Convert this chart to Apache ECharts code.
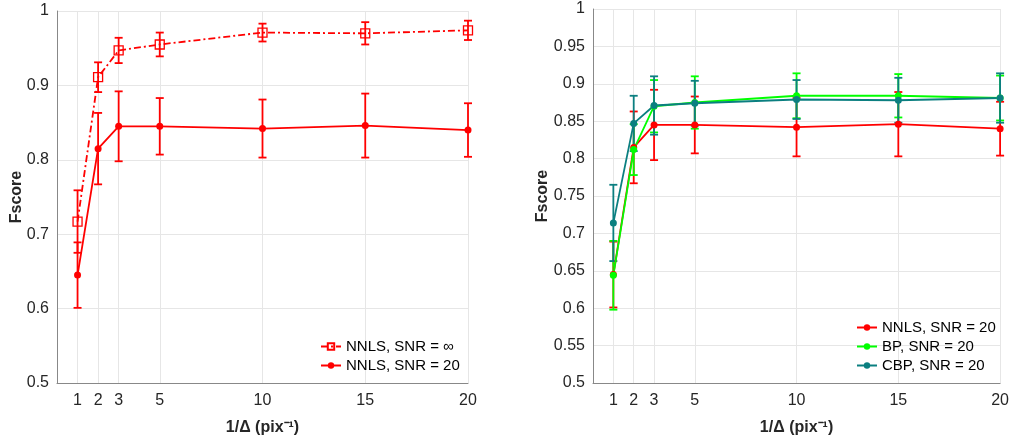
<!DOCTYPE html>
<html>
<head>
<meta charset="utf-8">
<script src="https://cdn.jsdelivr.net/npm/echarts@6/dist/echarts.min.js"></script>
<style>
  html, body { margin: 0; padding: 0; background: #fff; }
  #main { width: 1012px; height: 441px; }
</style>
</head>
<body>
<div id="main"></div>
<script>
// x positions (1/Delta) and tick labels
var xVals = [1, 2, 3, 5, 10, 15, 20];
var xTicks = [1, 2, 3, 5, 10, 15, 20];

// Fscore means and half-widths of the error bars
var nnlsInf = [0.717, 0.911, 0.947, 0.955, 0.971, 0.970, 0.974];
var nnlsInfErr = [0.042, 0.020, 0.017, 0.016, 0.012, 0.015, 0.013];
var nnls20 = [0.645, 0.815, 0.845, 0.845, 0.842, 0.846, 0.840];
var nnls20Err = [0.044, 0.048, 0.047, 0.038, 0.039, 0.043, 0.036];
var bp20 = [0.644, 0.812, 0.870, 0.875, 0.884, 0.884, 0.881];
var bp20Err = [0.046, 0.034, 0.035, 0.035, 0.030, 0.029, 0.030];
var cbp20 = [0.714, 0.847, 0.871, 0.874, 0.879, 0.878, 0.881];
var cbp20Err = [0.051, 0.037, 0.039, 0.030, 0.026, 0.030, 0.033];

var RED = '#ff0000', GREEN = '#00ff00', TEAL = '#0b7f80';
var FONT = 'Liberation Sans, Arial, sans-serif';

function pts(ys) {
    return xVals.map(function (x, i) { return [x, ys[i]]; });
}
function bars(ys, err) {
    return xVals.map(function (x, i) { return [x, ys[i] - err[i], ys[i] + err[i]]; });
}

function errRender(params, api) {
    var x = api.value(0);
    var lo = api.coord([x, api.value(1)]);
    var hi = api.coord([x, api.value(2)]);
    var w = 4;
    var style = { stroke: api.visual('color'), lineWidth: 1.8 };
    return {
        type: 'group',
        children: [
            { type: 'line', shape: { x1: lo[0], y1: lo[1], x2: hi[0], y2: hi[1] }, style: style },
            { type: 'line', shape: { x1: lo[0] - w, y1: lo[1], x2: lo[0] + w, y2: lo[1] }, style: style },
            { type: 'line', shape: { x1: hi[0] - w, y1: hi[1], x2: hi[0] + w, y2: hi[1] }, style: style }
        ]
    };
}

function errSeries(idx, ys, err, color) {
    return {
        type: 'custom',
        xAxisIndex: idx, yAxisIndex: idx,
        renderItem: errRender,
        encode: { x: 0, y: [1, 2] },
        itemStyle: { color: color },
        silent: true,
        z: 3,
        data: bars(ys, err)
    };
}

function lineSeries(idx, name, ys, color, symbol, dashed) {
    return {
        type: 'line',
        name: name,
        xAxisIndex: idx, yAxisIndex: idx,
        data: pts(ys),
        symbol: symbol,
        symbolSize: symbol === 'rect' ? 9 : 7,
        lineStyle: { color: color, width: 1.8, type: dashed ? [7, 3, 2, 3] : 'solid' },
        itemStyle: symbol === 'rect'
            ? { color: 'rgba(0,0,0,0)', borderColor: color, borderWidth: 1.3 }
            : { color: color },
        z: 4,
        animation: false
    };
}

function gridLines(idx) {
    return {
        type: 'line',
        xAxisIndex: idx, yAxisIndex: idx,
        data: [],
        silent: true,
        markLine: {
            silent: true,
            z: 1,
            symbol: ['none', 'none'],
            label: { show: false },
            animation: false,
            lineStyle: { color: '#e6e6e6', width: 1, type: 'solid' },
            data: xTicks.map(function (t) { return { xAxis: t }; })
        }
    };
}

function xAxisOpt(idx) {
    return {
        type: 'value', gridIndex: idx, min: 0, max: 20,
        name: '1/\u0394 (pix\u207b\u00b9)',
        nameLocation: 'middle', nameGap: 37,
        nameTextStyle: { fontFamily: FONT, fontSize: 16, fontWeight: 'bold', color: '#262626' },
        axisLine: { show: true, onZero: false, lineStyle: { color: '#888888', width: 1 } },
        axisTick: { show: false },
        splitLine: { show: false },
        axisLabel: { customValues: xTicks, fontFamily: FONT, fontSize: 16, color: '#262626', margin: 10 }
    };
}

function yAxisOpt(idx, interval, gap) {
    return {
        type: 'value', gridIndex: idx, min: 0.5, max: 1, interval: interval,
        name: 'Fscore',
        nameLocation: 'middle', nameRotate: 90, nameGap: gap,
        nameMoveOverlap: false,
        nameTextStyle: { fontFamily: FONT, fontSize: 16, fontWeight: 'bold', color: '#262626' },
        axisLine: { show: true, lineStyle: { color: '#888888', width: 1 } },
        axisTick: { show: false },
        splitLine: { show: true, lineStyle: { color: '#e6e6e6', width: 1 } },
        axisLabel: { fontFamily: FONT, fontSize: 16, color: '#262626', margin: 8 }
    };
}

var option = {
    backgroundColor: '#ffffff',
    animation: false,
    grid: [
        { left: 57, top: 11, width: 411, height: 373 },
        { left: 593, top: 9, width: 410, height: 376 }
    ],
    xAxis: [xAxisOpt(0), xAxisOpt(1)],
    yAxis: [yAxisOpt(0, 0.1, 32), yAxisOpt(1, 0.05, 42)],
    legend: [
        {
            orient: 'vertical', left: 320, top: 339, padding: 0,
            itemWidth: 20, itemHeight: 8, itemGap: 4,
            textStyle: { fontFamily: FONT, fontSize: 15, color: '#000' },
            data: ['NNLS, SNR = \u221e', 'NNLS, SNR = 20']
        },
        {
            orient: 'vertical', left: 856, top: 320, padding: 0,
            itemWidth: 20, itemHeight: 8, itemGap: 4,
            textStyle: { fontFamily: FONT, fontSize: 15, color: '#000' },
            data: ['NNLS, SNR = 20', 'BP, SNR = 20', 'CBP, SNR = 20']
        }
    ],
    series: [
        gridLines(0),
        gridLines(1),
        errSeries(0, nnlsInf, nnlsInfErr, RED),
        lineSeries(0, 'NNLS, SNR = \u221e', nnlsInf, RED, 'rect', true),
        errSeries(0, nnls20, nnls20Err, RED),
        lineSeries(0, 'NNLS, SNR = 20', nnls20, RED, 'circle', false),
        errSeries(1, nnls20, nnls20Err, RED),
        lineSeries(1, 'NNLS, SNR = 20', nnls20, RED, 'circle', false),
        errSeries(1, bp20, bp20Err, GREEN),
        lineSeries(1, 'BP, SNR = 20', bp20, GREEN, 'circle', false),
        errSeries(1, cbp20, cbp20Err, TEAL),
        lineSeries(1, 'CBP, SNR = 20', cbp20, TEAL, 'circle', false)
    ]
};

var chart = echarts.init(document.getElementById('main'));
chart.setOption(option);
</script>
</body>
</html>
